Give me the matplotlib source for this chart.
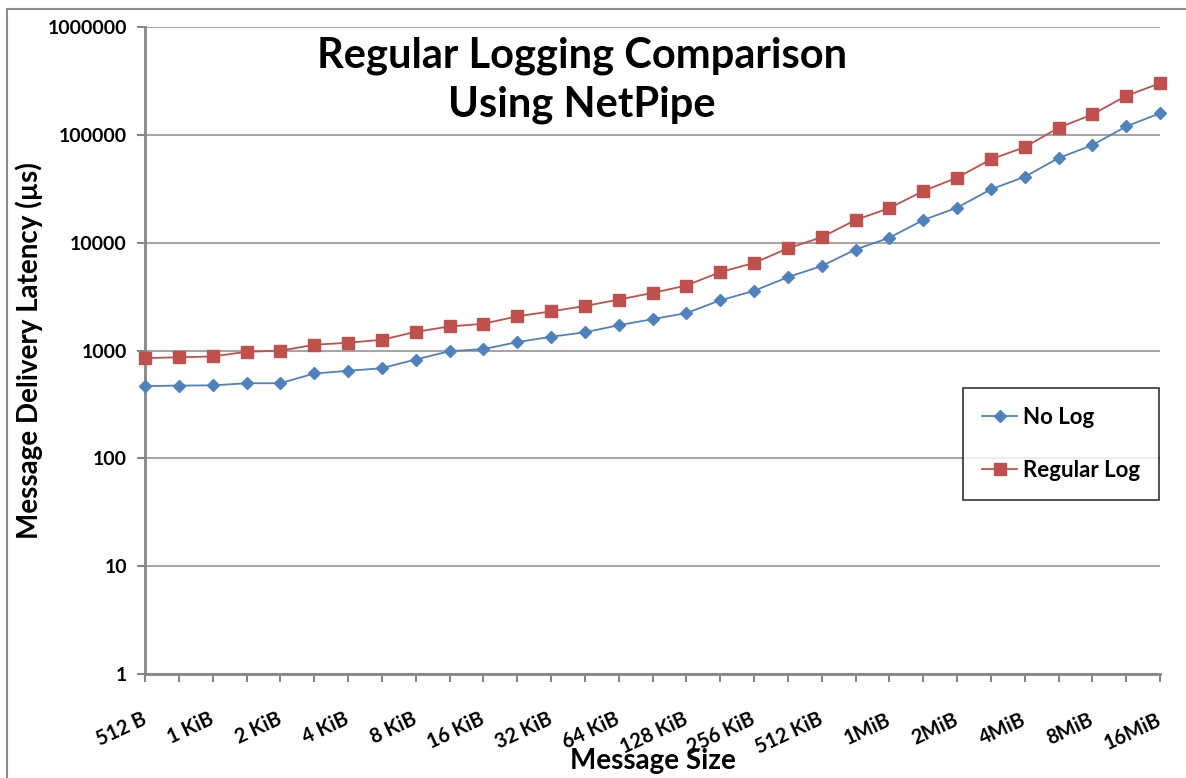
import numpy as np
import matplotlib
matplotlib.use('Agg')
import matplotlib.pyplot as plt
from matplotlib.lines import Line2D

plt.rcParams['font.family'] = ['Lato', 'DejaVu Sans']
plt.rcParams['font.weight'] = 'bold'
plt.rcParams['axes.labelweight'] = 'bold'

# message sizes: 512 B up to 16 MiB, one point per half-octave step
size_labels = ['512 B', '1 KiB', '2 KiB', '4 KiB', '8 KiB', '16 KiB', '32 KiB',
               '64 KiB', '128 KiB', '256 KiB', '512 KiB', '1MiB', '2MiB',
               '4MiB', '8MiB', '16MiB']

no_log = [467, 473, 475, 497, 497, 612, 648, 685, 825, 985, 1030, 1195,
          1341, 1475, 1715, 1952, 2222, 2917, 3573, 4790, 6075, 8630,
          11120, 16200, 21100, 31200, 40800, 60800, 80300, 119600, 158600]

regular_log = [848, 866, 880, 973, 995, 1130, 1180, 1257, 1490, 1670, 1770,
               2075, 2305, 2585, 2962, 3420, 4005, 5335, 6483, 8845, 11230,
               16220, 20900, 30100, 40000, 59200, 76900, 116000, 154500,
               229600, 301000]

x = np.arange(len(no_log))

fig = plt.figure(figsize=(11.86, 7.78), dpi=100)
ax = fig.add_axes([145/1186, 1 - 674/778, (1160-145)/1186, (674-27)/778])

ax.plot(x, no_log, color='#4F81BD', marker='D', markersize=6, lw=1.3,
        label='No Log', clip_on=False, zorder=3)
ax.plot(x, regular_log, color='#C0504D', marker='s', markersize=8, lw=1.3,
        label='Regular Log', clip_on=False, zorder=3)

ax.set_yscale('log')
ax.set_ylim(1, 1e6)
ax.set_xlim(0, len(no_log) - 1)
ax.set_yticks([1, 10, 100, 1000, 10000, 100000, 1000000])
ax.set_yticklabels(['1', '10', '100', '1000', '10000', '100000', '1000000'])
ax.yaxis.set_minor_locator(matplotlib.ticker.NullLocator())

ax.set_xticks(x)
ax.set_xticklabels([size_labels[i // 2] if i % 2 == 0 else '' for i in x],
                   rotation=25, ha='right', va='center', rotation_mode='anchor')

ax.grid(axis='y', color='#A6A6A6', lw=1.5)
ax.set_axisbelow(True)
for s in ['top', 'right']:
    ax.spines[s].set_visible(False)
for s in ['left', 'bottom']:
    ax.spines[s].set_color('#868686')
    ax.spines[s].set_linewidth(2)
ax.tick_params(axis='y', direction='out', length=6, width=1.5,
               color='#868686', pad=7, labelsize=14)
ax.tick_params(axis='x', direction='out', length=6, width=1.5,
               color='#868686', pad=26, labelsize=14.5)

ax.set_xlabel('Message Size', fontsize=20, labelpad=-7)
ax.set_ylabel('Message Delivery Latency (µs)', fontsize=20, labelpad=3)

fig.text(582/1186, 1 - 80/778, 'Regular Logging Comparison\nUsing NetPipe',
         ha='center', va='center', fontsize=30, linespacing=1.35)

leg = ax.legend(loc='upper left', bbox_to_anchor=(963/1186, 1 - 388/778),
                bbox_transform=fig.transFigure, prop={'size': 16, 'weight': 'bold'},
                frameon=True, fancybox=False, edgecolor='black',
                labelspacing=1.45, borderpad=0.85, handlelength=1.6,
                handletextpad=0.25, borderaxespad=0)
leg.get_frame().set_linewidth(1.2)

# chart area border (top and left edges visible)
fig.add_artist(Line2D([7/1186, 1], [1 - 9/778, 1 - 9/778], color='#8C8C8C',
                      lw=1.5, transform=fig.transFigure))
fig.add_artist(Line2D([7/1186, 7/1186], [0, 1 - 9/778], color='#8C8C8C',
                      lw=1.5, transform=fig.transFigure))

fig.savefig('out.png', dpi=100)
